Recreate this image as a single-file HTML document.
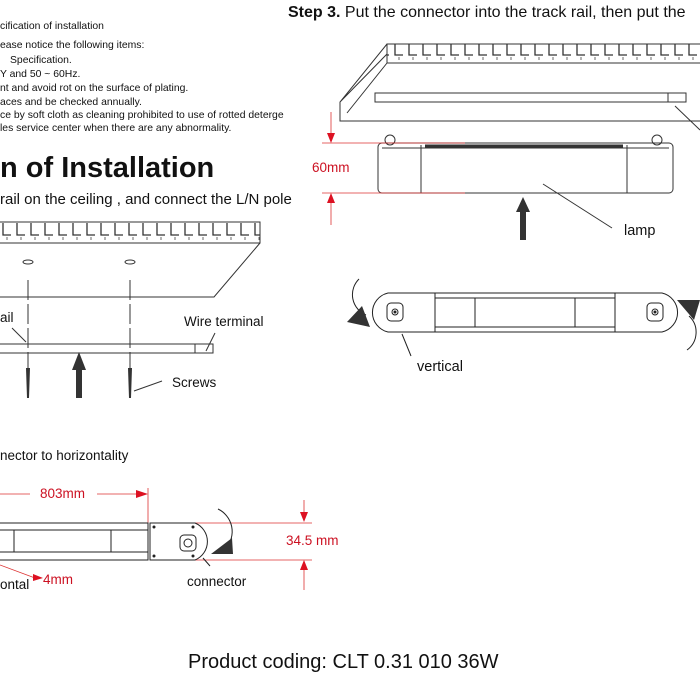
<!DOCTYPE html>
<html><head><meta charset="utf-8"><style>
body{margin:0;background:#fff}
svg{display:block;font-family:"Liberation Sans",Arial,sans-serif}
</style></head><body>
<svg width="700" height="700" viewBox="0 0 700 700" xmlns="http://www.w3.org/2000/svg">
<defs>
<pattern id="comb" x="0" y="0" width="14" height="20" patternUnits="userSpaceOnUse">
<path d="M3 3 V15 H11" fill="none" stroke="#333" stroke-width="1.3"/>
<path d="M7 17 V20" stroke="#444" stroke-width="0.8"/>
</pattern>
</defs>
<g fill="#111" font-size="10.4">
<text x="0" y="29">cification of installation</text>
<text x="0" y="48">ease notice the following items:</text>
<text x="10" y="63">Specification.</text>
<text x="0" y="77">Y and 50 ~ 60Hz.</text>
<text x="0" y="91">nt and avoid rot on the surface of plating.</text>
<text x="0" y="105">aces and be checked annually.</text>
<text x="0" y="118">ce by soft cloth as cleaning prohibited to use of rotted deterge</text>
<text x="0" y="131">les service center when there are any abnormality.</text>
</g>
<text x="0" y="177" font-size="29" font-weight="bold" fill="#111">n of Installation</text>
<text x="0" y="204" font-size="15" fill="#111">rail on the ceiling , and connect the L/N pole</text>
<text x="288" y="17" font-size="16" fill="#111"><tspan font-weight="bold">Step 3.</tspan>  Put the connector into the track rail, then put the</text>

<!-- left ceiling -->
<g fill="none" stroke="#333" stroke-width="1">
<rect x="-2" y="222" width="262" height="21" fill="url(#comb)"/>
<path d="M260 243 L214 297 H0"/>
<ellipse cx="28" cy="262" rx="5" ry="2"/><ellipse cx="130" cy="262" rx="5" ry="2"/>
<path d="M28 280 V400 M130 280 V400" stroke-dasharray="20 4"/>
<rect x="-2" y="344" width="215" height="9"/>
<path d="M195 344 V353 M206 351 L215 333 M26 342 L12 328 M134 391 L162 381"/>
</g>
<path d="M26 368 L30 368 L29 398 L27 398Z M128 368 L132 368 L131 398 L129 398Z" fill="#333"/>
<path d="M79 352 L86 370 H82 V398 H76 V370 H72Z" fill="#333"/>
<text x="184" y="326" font-size="13.5" fill="#111">Wire terminal</text>
<text x="0" y="322" font-size="13.5" fill="#111">ail</text>
<text x="172" y="387" font-size="13.5" fill="#111">Screws</text>

<!-- horizontality -->
<text x="0" y="460" font-size="13.5" fill="#111">nector to horizontality</text>
<g stroke="#d33" stroke-width="0.8" fill="none">
<path d="M0 494 H30 M97 494 H138 M148 488 V560 M150 523 H312 M150 560 H312 M304 500 V520 M304 563 V590 M0 565 L35 578"/>
</g>
<path d="M136 490 L148 494 L136 498Z M300 512 L304 522 L308 512Z M300 570 L304 560 L308 570Z M33 574 L43 578 L33 581Z" fill="#d12"/>
<text x="40" y="498" font-size="13.5" fill="#c12">803mm</text>
<text x="286" y="545" font-size="13.5" fill="#c12">34.5 mm</text>
<text x="43" y="584" font-size="13.5" fill="#c12">4mm</text>
<text x="0" y="589" font-size="13.5" fill="#111">ontal</text>
<text x="187" y="586" font-size="13.5" fill="#111">connector</text>
<g fill="none" stroke="#222" stroke-width="1">
<rect x="-2" y="523" width="150" height="37"/>
<path d="M0 530 H148 M0 552 H148 M14 530 V552 M111 530 V552"/>
<path d="M150 523 H195 A20 20 0 0 1 195 560 H150Z"/>
<rect x="180" y="535" width="16" height="16" rx="4"/>
<circle cx="188" cy="543" r="4"/>
<path d="M218 509 A25 25 0 0 1 226 548"/>
<path d="M203 558 L210 566"/>
</g>
<circle cx="154" cy="527" r="1.5" fill="#222"/><circle cx="154" cy="556" r="1.5" fill="#222"/>
<circle cx="193" cy="527" r="1.5" fill="#222"/><circle cx="193" cy="556" r="1.5" fill="#222"/>
<path d="M232 538 L211 554 L233 554Z" fill="#333"/>

<!-- right ceiling -->
<g fill="none" stroke="#333" stroke-width="1">
<rect x="387" y="44" width="320" height="19" fill="url(#comb)"/>
<path d="M387 44 L340 102 V121 H700 M387 63 L347 113 M340 102 L387 54"/>
<rect x="375" y="93" width="311" height="9"/>
<path d="M668 93 V102 M675 106 L700 130"/>
<rect x="378" y="143" width="295" height="50" rx="4"/>
<path d="M421 145 V193 M627 145 V193 M382 148 H669"/>
<path d="M425 146 H623" stroke-width="3"/>
<circle cx="390" cy="140" r="5"/><circle cx="657" cy="140" r="5"/>
<path d="M543 184 L612 228"/>
</g>
<g stroke="#d33" stroke-width="0.8" fill="none">
<path d="M322 143 H465 M322 193 H465 M331 112 V135 M331 200 V225"/>
</g>
<path d="M327 133 L331 143 L335 133Z M327 203 L331 193 L335 203Z" fill="#d12"/>
<text x="312" y="172" font-size="13.5" fill="#c12">60mm</text>
<path d="M523 197 L530 212 H526 V240 H520 V212 H516Z" fill="#333"/>
<text x="624" y="235" font-size="14.5" fill="#111">lamp</text>

<!-- bottom lamp view -->
<g fill="none" stroke="#222" stroke-width="1">
<path d="M388 293 H662 A20 20 0 0 1 662 332 H388 A20 20 0 0 1 388 293Z"/>
<path d="M435 293 V332 M615 293 V332 M435 298 H615 M435 327 H615 M475 298 V327 M575 298 V327"/>
<rect x="387" y="303" width="16" height="18" rx="4"/><rect x="647" y="303" width="16" height="18" rx="4"/>
<circle cx="395" cy="312" r="3"/><circle cx="655" cy="312" r="3"/>
<path d="M359 279 A22 22 0 0 0 366 315 M689 316 A22 22 0 0 1 687 350 M411 356 L402 334"/>
</g>
<circle cx="395" cy="312" r="1.5" fill="#222"/><circle cx="655" cy="312" r="1.5" fill="#222"/>
<path d="M347 322 L370 327 L362 306Z M700 300 L677 300 L694 320Z" fill="#333"/>
<text x="417" y="371" font-size="14.5" fill="#111">vertical</text>

<text x="188" y="668" font-size="20" fill="#111">Product coding: CLT 0.31 010 36W</text>
</svg>
</body></html>
